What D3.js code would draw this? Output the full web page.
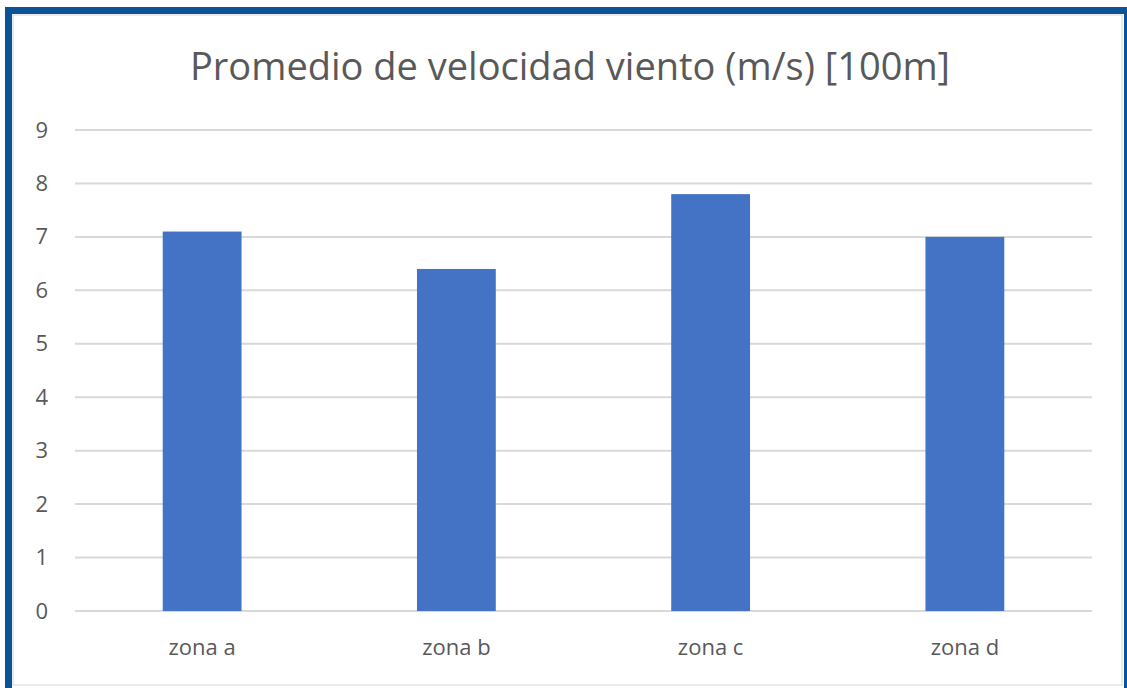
<!DOCTYPE html>
<html>
<head>
<meta charset="utf-8">
<script src="https://cdn.jsdelivr.net/npm/d3@7"></script>
<style>
  html, body { margin: 0; padding: 0; background: #ffffff; }
  svg { display: block; }
  text { font-family: "Open Sans", "Noto Sans", sans-serif; fill: #595959; }
</style>
</head>
<body>
<svg id="chart" width="1127" height="688"></svg>
<script>
// Average wind speed per zone at 100 m height
const title = "Promedio de velocidad viento (m/s) [100m]";
const zones = ["zona a", "zona b", "zona c", "zona d"];
const speeds = [7.1, 6.4, 7.8, 7.0];
const yTicks = [0, 1, 2, 3, 4, 5, 6, 7, 8, 9];

const W = 1127, H = 688;
const svg = d3.select("#chart");

// Outer frame
svg.append("rect")
  .attr("x", 8.5).attr("y", 10.5)
  .attr("width", W - 8).attr("height", H - 6)
  .attr("fill", "#ffffff")
  .attr("stroke", "#0b5394").attr("stroke-width", 7);
svg.append("rect")
  .attr("x", 13).attr("y", 15)
  .attr("width", W - 18).attr("height", H - 18)
  .attr("fill", "none")
  .attr("stroke", "#e4e4e4").attr("stroke-width", 1.5);

const plot = { left: 75, right: 1092, top: 130, bottom: 611 };

const x = d3.scaleBand()
  .domain(zones)
  .range([plot.left, plot.right])
  .paddingInner(0.69)
  .paddingOuter(0.345);

const y = d3.scaleLinear()
  .domain([0, 9])
  .range([plot.bottom, plot.top]);

// Title
svg.append("text")
  .attr("x", 570)
  .attr("y", 80)
  .attr("text-anchor", "middle")
  .style("font-size", "38px")
  .text(title);

// Gridlines
svg.append("g")
  .selectAll("line")
  .data(yTicks)
  .join("line")
  .attr("x1", plot.left).attr("x2", plot.right)
  .attr("y1", d => y(d)).attr("y2", d => y(d))
  .attr("stroke", "#d9d9d9").attr("stroke-width", 2);

// Y axis labels
const yAxis = svg.append("g")
  .attr("transform", `translate(${plot.left - 27},0)`)
  .call(d3.axisLeft(y).tickValues(yTicks).tickSize(0).tickPadding(0));
yAxis.select(".domain").remove();
yAxis.selectAll("text")
  .attr("fill", "#595959")
  .style("font-size", "22px")
  .style("font-family", "\"Open Sans\", \"Noto Sans\", sans-serif");

// Bars
svg.append("g")
  .selectAll("rect")
  .data(zones.map((z, i) => ({ zone: z, value: speeds[i] })))
  .join("rect")
  .attr("x", d => x(d.zone))
  .attr("y", d => y(d.value))
  .attr("width", x.bandwidth())
  .attr("height", d => y(0) - y(d.value))
  .attr("fill", "#4472c4");

// X axis labels
const xAxis = svg.append("g")
  .attr("transform", `translate(0,${plot.bottom + 28})`)
  .call(d3.axisBottom(x).tickSize(0).tickPadding(0));
xAxis.select(".domain").remove();
xAxis.selectAll("text")
  .attr("fill", "#595959")
  .attr("dy", "0.71em")
  .style("font-size", "22px")
  .style("font-family", "\"Open Sans\", \"Noto Sans\", sans-serif");
</script>
</body>
</html>
